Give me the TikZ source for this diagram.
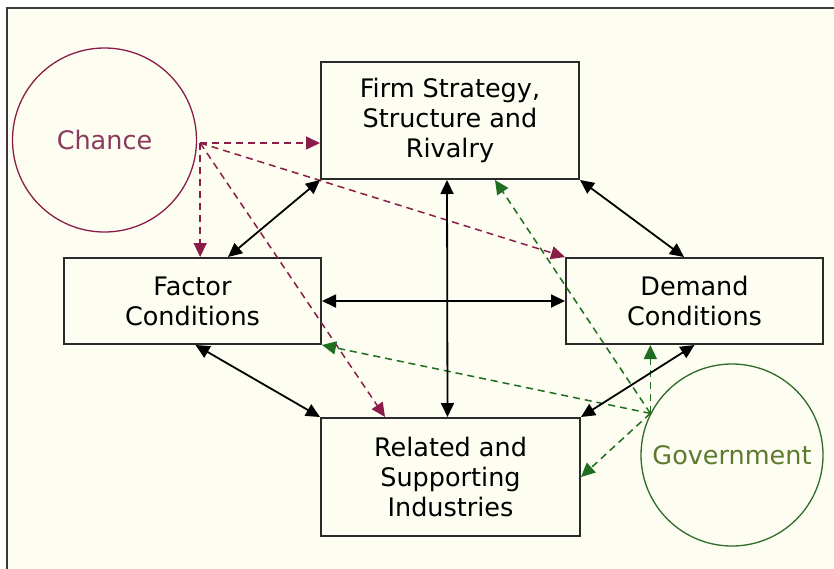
\documentclass[tikz,border=0pt]{standalone}
\usepackage{fontspec}
\setmainfont{DejaVu Sans}
\usetikzlibrary{arrows.meta,calc}
\definecolor{bg}{HTML}{FDFDF2}
\definecolor{frameline}{HTML}{3A3A3A}
\definecolor{boxline}{HTML}{2A2A2A}
\definecolor{maroonc}{HTML}{8B1C4A}
\definecolor{chancetxt}{HTML}{8A3A5E}
\definecolor{govline}{HTML}{2F6B2A}
\definecolor{govtxt}{HTML}{5C7A2E}
\definecolor{arrgreen}{HTML}{1F6E1F}
\begin{document}
\begin{tikzpicture}[x=1pt,y=-1pt,
  txt/.style={font=\fontsize{25.5}{30}\selectfont},
  box/.style={txt,draw=boxline,line width=2pt,fill=bg,align=center,inner sep=0pt},
  ring/.style={txt,circle,line width=1.3pt,inner sep=0pt},
  tip/.style={-{Triangle[length=14pt,width=13pt]}},
  chancearr/.style={tip,draw=maroonc,line width=1.5pt,dash pattern=on 7pt off 5pt},
  govarr/.style={tip,draw=arrgreen,line width=1.5pt,dash pattern=on 7pt off 5pt},
  dbl/.style={{Triangle[length=14pt,width=13pt]}-{Triangle[length=14pt,width=13pt]},draw=black,line width=1.8pt}]
\useasboundingbox (0,0) rectangle (834,568);
\fill[white] (0,0) rectangle (834,568);
\draw[fill=bg,draw=frameline,line width=1.5pt] (7,8) rectangle (850,590);

\node[box,minimum width=258pt,minimum height=117pt] (firm) at (450,120.5) {Firm Strategy,\\Structure and\\Rivalry};
\node[box,minimum width=257pt,minimum height=86pt] (factor) at (192.5,301) {Factor\\Conditions};
\node[box,minimum width=257pt,minimum height=86pt] (demand) at (694.5,301) {Demand\\Conditions};
\node[box,minimum width=259pt,minimum height=118pt] (related) at (450.5,477) {Related and\\Supporting\\Industries};
\node[ring,draw=maroonc,text=chancetxt,minimum size=184pt] (chance) at (104.5,140) {Chance};
\node[ring,draw=govline,text=govtxt,minimum size=182pt] (gov) at (732,455) {Government};

\coordinate (cs) at ([xshift=3pt,yshift=-3pt]chance.east);
\coordinate (gp) at (gov.153);

\draw[chancearr] (cs) -- (cs -| firm.west);
\draw[chancearr] (cs) -- (cs |- factor.north);
\draw[chancearr] (cs) -- (demand.north west);
\draw[chancearr] (cs) -- ([xshift=-65.5pt]related.north);

\draw[govarr] (gp) -- ([xshift=45pt]firm.south);
\draw[govarr] (gp) -- (factor.south east);
\draw[govarr] (gp) -- (gp |- demand.south);
\draw[govarr] (gp) -- (related.east);

\draw[dbl] (firm.south west) -- ([xshift=35.5pt]factor.north);
\draw[dbl] (firm.south east) -- ([xshift=-10.5pt]demand.north);
\draw[dbl] (factor.east) -- (demand.west);
\draw[dbl] ([xshift=-3pt]firm.south) -- ([xshift=-3pt]related.north);
\draw[dbl] ([xshift=3pt]factor.south) -- (related.north west);
\draw[dbl] (demand.south) -- (related.north east);
\end{tikzpicture}
\end{document}
